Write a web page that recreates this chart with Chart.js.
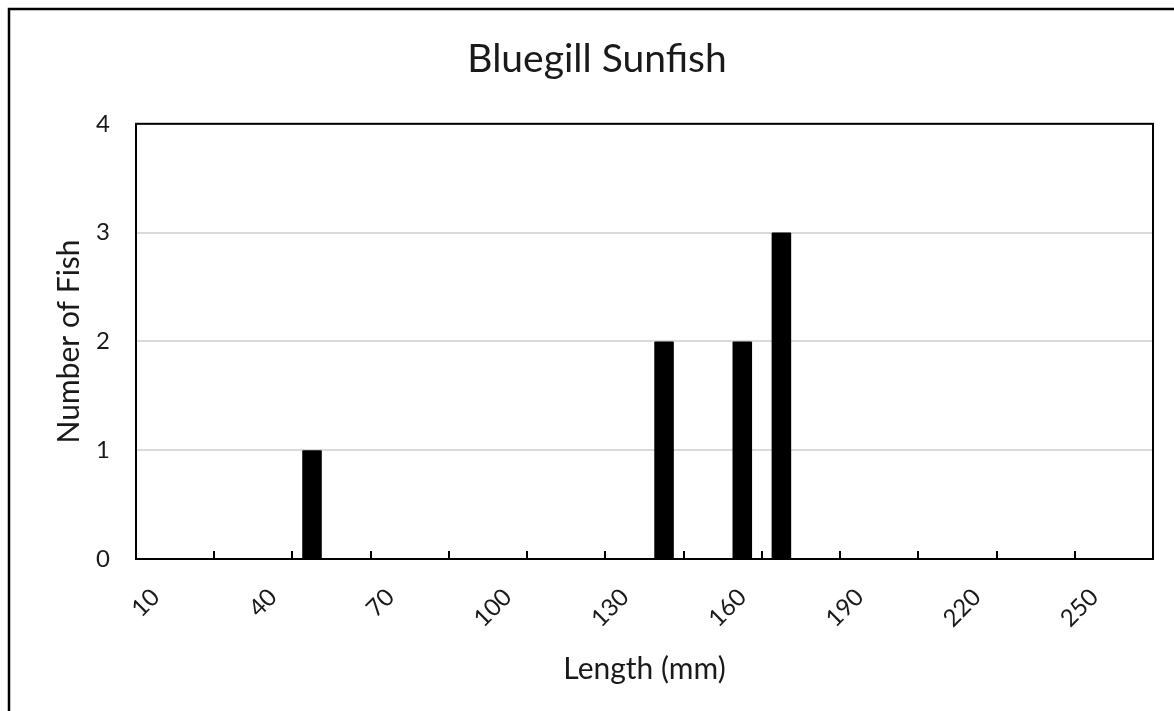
<!DOCTYPE html>
<html>
<head>
<meta charset="utf-8">
<script src="https://cdn.jsdelivr.net/npm/chart.js@4.4.1/dist/chart.umd.min.js"></script>
<style>
html,body{margin:0;padding:0;background:#fff;}
#wrap{width:1174px;height:711px;}
</style>
</head>
<body>
<div id="wrap"><canvas id="c" width="1174" height="711"></canvas></div>
<script>
// Length classes (mm), one category every 10 mm
const lengthCategories = ['10','20','30','40','50','60','70','80','90','100','110','120','130',
  '140','150','160','170','180','190','200','210','220','230','240','250','260'];
// Number of fish per length class
const fishCounts = [0,0,0,0,1,0,0,0,0,0,0,0,0,2,0,2,3,0,0,0,0,0,0,0,0,0];
// Labels shown on the x axis
const shownLengthLabels = ['10','40','70','100','130','160','190','220','250'];
// Y axis ticks
const countTicks = [0,1,2,3,4];

const FONT = 'Lato, "Open Sans", sans-serif';
const TEXT = '#1a1a1a';

const framePlugin = {
  id: 'frame',
  beforeDraw(chart) {
    const ctx = chart.ctx;
    ctx.save();
    ctx.fillStyle = '#fff';
    ctx.fillRect(0, 0, chart.width, chart.height);
    ctx.strokeStyle = '#000';
    ctx.lineWidth = 2.5;
    ctx.strokeRect(9, 9, chart.width + 50, chart.height + 50);
    ctx.restore();
  },
  afterDatasetsDraw(chart) {
    const ctx = chart.ctx, a = chart.chartArea, x = chart.scales.x;
    ctx.save();
    ctx.strokeStyle = '#000';
    ctx.lineWidth = 2;
    ctx.strokeRect(a.left, a.top, a.right - a.left, a.bottom - a.top);
    for (let i = 2; i < lengthCategories.length; i += 2) {
      const px = Math.round(x.getPixelForValue(i - 0.5));
      ctx.beginPath();
      ctx.moveTo(px, a.bottom);
      ctx.lineTo(px, a.bottom - 8);
      ctx.stroke();
    }
    ctx.restore();
  }
};

new Chart(document.getElementById('c'), {
  type: 'bar',
  data: {
    labels: lengthCategories,
    datasets: [{
      data: fishCounts,
      backgroundColor: '#000',
      borderColor: '#000',
      borderWidth: 0,
      borderRadius: 1,
      categoryPercentage: 1.0,
      barPercentage: 0.5
    }]
  },
  options: {
    responsive: false,
    animation: false,
    devicePixelRatio: 1,
    layout: { padding: { left: 41, right: 21, top: 0, bottom: 0 } },
    plugins: {
      legend: { display: false },
      tooltip: { enabled: false },
      title: {
        display: true,
        text: 'Bluegill Sunfish',
        color: TEXT,
        font: { family: FONT, size: 39, weight: 'normal', lineHeight: 1.2 },
        padding: { top: 36, bottom: 41 }
      }
    },
    scales: {
      x: {
        type: 'category',
        offset: true,
        grid: { display: false },
        border: { display: false },
        afterFit(scale) { scale.height = 152; },
        ticks: {
          autoSkip: false,
          minRotation: 45,
          maxRotation: 45,
          padding: 16,
          color: TEXT,
          font: { family: FONT, size: 24 },
          callback(value, index) {
            const lab = lengthCategories[index];
            return shownLengthLabels.includes(lab) ? lab : '';
          }
        },
        title: {
          display: true,
          text: 'Length (mm)',
          color: TEXT,
          font: { family: FONT, size: 30, lineHeight: 1.2 },
          padding: { top: 0, bottom: 24 }
        }
      },
      y: {
        min: countTicks[0],
        max: countTicks[countTicks.length - 1],
        afterFit(scale) { scale.width = 95; },
        afterBuildTicks(scale) { scale.ticks = countTicks.map(v => ({ value: v })); },
        grid: {
          drawTicks: false,
          lineWidth: 2,
          color: '#d9d9d9'
        },
        border: { display: false },
        ticks: {
          padding: 26,
          color: TEXT,
          font: { family: FONT, size: 24 }
        },
        title: {
          display: true,
          text: 'Number of Fish',
          color: TEXT,
          font: { family: FONT, size: 30, lineHeight: 1.2 },
          padding: { top: 10, bottom: 0 }
        }
      }
    }
  },
  plugins: [framePlugin]
});
</script>
</body>
</html>
